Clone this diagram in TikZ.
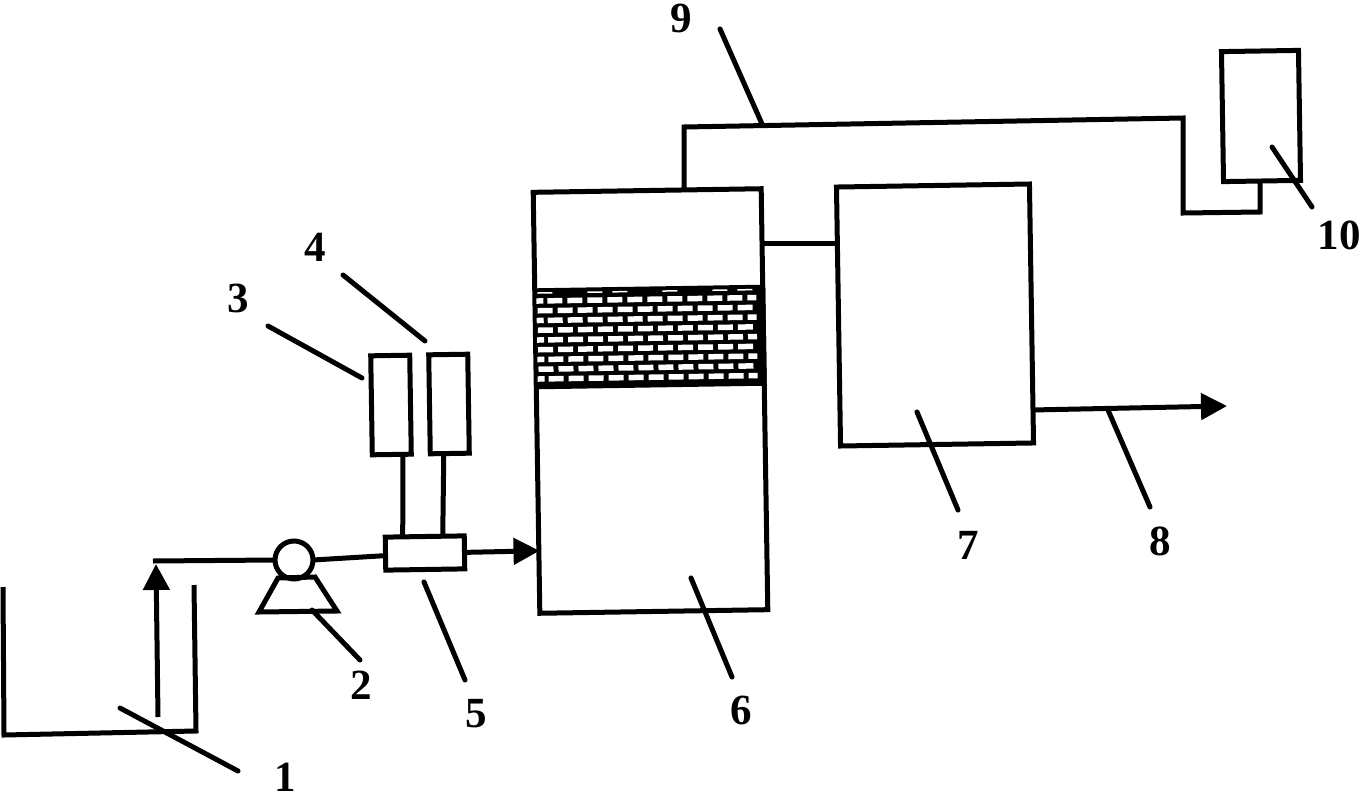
\documentclass[tikz,border=0pt]{standalone}
\usepackage{fontspec}
\setmainfont{Liberation Serif}
\usetikzlibrary{arrows.meta,calc}
\tikzset{
  unitbox/.style={draw,line width=5pt,rectangle,rotate=0.9,outer sep=0pt,inner sep=0pt,fill=white},
  pipe/.style={line width=5pt,line cap=butt,line join=miter},
  flowpipe/.style={pipe,-{Triangle[length=26pt,width=26pt]}},
  leader/.style={line width=5pt,line cap=round},
  partno/.style={font=\fontsize{43}{43}\selectfont\bfseries,inner sep=0pt}
}
\begin{document}
\begin{tikzpicture}[x=1pt,y=-1pt]
\useasboundingbox (0,0) rectangle (1361,798);

%units
\node[unitbox,minimum width=228pt,minimum height=421pt] (reactor) at (650.5,401) {};
\node[unitbox,minimum width=193pt,minimum height=259pt] (settler) at (935,315) {};
\node[unitbox,minimum width=77pt,minimum height=130pt] (gasbag) at (1261,116) {};
\node[unitbox,minimum width=39pt,minimum height=99pt] (dosea) at (391,405) {};
\node[unitbox,minimum width=39pt,minimum height=99pt] (doseb) at (449,404) {};
\node[unitbox,minimum width=79pt,minimum height=33pt] (mixer) at (425,553) {};
\node[draw,line width=5pt,circle,minimum size=38pt,inner sep=0pt,outer sep=0pt] (pump) at (294,560) {};

%packing layer
\node[fill=black,rotate=0.9,minimum width=232pt,minimum height=101pt,inner sep=0pt] (packing) at (650,337) {};
\begin{scope}[rotate around={0.9:(650,337)}]
\foreach \row in {0,2,4,6,8} {
  \fill[white] (537,{296.5+9.75*\row}) rectangle (544,{302+9.75*\row});
  \foreach \col in {0,...,9}
    \fill[white] ({548+20*\col},{296.5+9.75*\row}) rectangle ({563+20*\col},{302+9.75*\row});
  \fill[white] (748,{296.5+9.75*\row}) rectangle (757,{302+9.75*\row});
}
\foreach \row in {1,3,5,7} {
  \foreach \col in {0,...,10}
    \fill[white] ({538+20*\col},{296.5+9.75*\row}) rectangle ({553+20*\col},{302+9.75*\row});
}
%thin slots along the top
\foreach \col in {0,2,3,5,7,8}
  \fill[white] ({538+25*\col},290.5) rectangle ({553+25*\col},292);
\end{scope}

%tank
\draw[pipe] (3,587) -- (4,735) -- (196,731) -- (194,585);
\coordinate (lift) at (158,717);
\coordinate (liftend) at (156,564);
\draw[flowpipe] (lift) -- (liftend);

%pump stand
\coordinate (standa) at (278,578);
\coordinate (standb) at (315,577);
\coordinate (standc) at (337,611);
\coordinate (standd) at (259,612);
\draw[pipe] (standa) -- (standb) -- (standc) -- (standd) -- cycle;

%feed line
\coordinate (feedstart) at (153,561);
\draw[pipe] (feedstart) -- (pump.west);
\draw[pipe] (pump.east) -- ($(mixer.west)+(0,2)$);
\draw[flowpipe] (mixer.east) -- ($(reactor.west)+(3,148)$) coordinate (feedend);
\draw[pipe] ($(dosea.south)+(11,0)$) -- ($(mixer.north)+(-22,0)$);
\draw[pipe] ($(doseb.south)+(-6,0)$) -- ($(mixer.north)+(18,0)$);

%outlets
\coordinate (outend) at (1227,406);
\draw[flowpipe] (settler.east |- 0,410) -- (outend);
\coordinate (linkend) at (763,243);
\draw[pipe] (linkend) -- (settler.west |- linkend);
\coordinate (venta) at (684,190);
\coordinate (ventb) at (684,127);
\coordinate (ventc) at (1183,118);
\coordinate (ventd) at (1183,213);
\coordinate (vente) at (1260,212);
\coordinate (ventf) at (1260,182);
\draw[pipe] (venta) -- (ventb) -- (ventc) -- (ventd) -- (vente) -- (ventf);

%part numbers
\node[partno] (no1) at (285,777) {1};
\node[partno] (no2) at (361,685) {2};
\node[partno] (no3) at (238,298) {3};
\node[partno] (no4) at (315,247) {4};
\node[partno] (no5) at (476,714) {5};
\node[partno] (no6) at (741,710) {6};
\node[partno] (no7) at (968,545) {7};
\node[partno] (no8) at (1160,541) {8};
\node[partno] (no9) at (681,18) {9};
\node[partno] (no10) at (1339,235) {10};

%leader lines
\draw[leader] (120,708) coordinate (tipa) -- (238,771) coordinate (enda);
\draw[leader] (312,610) coordinate (tipb) -- (360,660) coordinate (endb);
\draw[leader] (362,378) coordinate (tipc) -- (268,326) coordinate (endc);
\draw[leader] (425,341) coordinate (tipd) -- (343,275) coordinate (endd);
\draw[leader] (424,582) coordinate (tipe) -- (465,680) coordinate (ende);
\draw[leader] (691,578) coordinate (tipf) -- (732,677) coordinate (endf);
\draw[leader] (917,412) coordinate (tipg) -- (958,510) coordinate (endg);
\draw[leader] (1108,410) coordinate (tiph) -- (1150,507) coordinate (endh);
\draw[leader] (762,124) coordinate (tipi) -- (720,29) coordinate (endi);
\draw[leader] (1272,147) coordinate (tipj) -- (1312,207) coordinate (endj);

\end{tikzpicture}
\end{document}
